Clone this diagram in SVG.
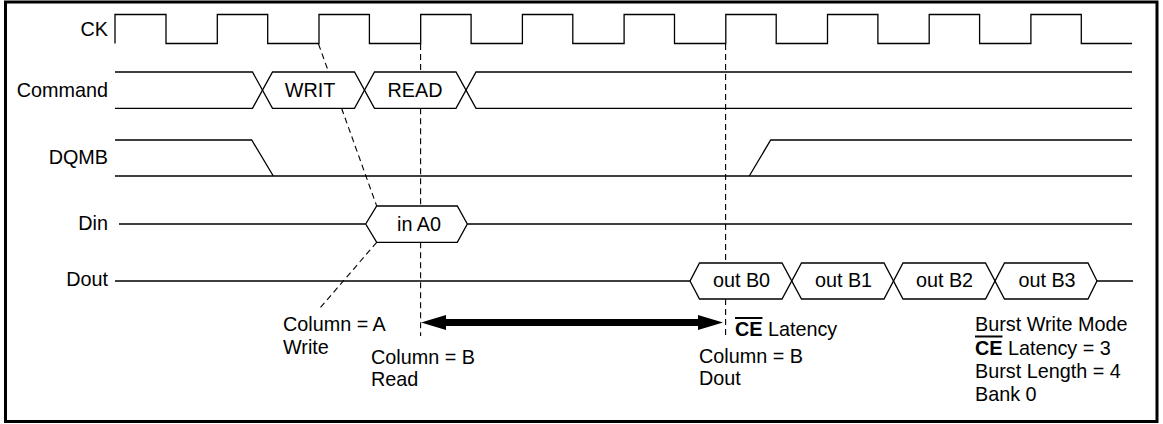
<svg xmlns="http://www.w3.org/2000/svg" width="1163" height="424" viewBox="0 0 1163 424">
<style>
text{font-family:"Liberation Sans",Arial,Helvetica,sans-serif;font-size:19.8px;fill:#000}
.lbl{text-anchor:end}
.mid{text-anchor:middle}
.sig{fill:none;stroke:#000;stroke-width:1.3;stroke-linejoin:miter}
.dash{fill:none;stroke:#000;stroke-width:1.1;stroke-dasharray:6,4}
.b{font-weight:bold;text-decoration:overline}
</style>
<rect x="5.5" y="2" width="1151.5" height="419.5" fill="#fff" stroke="#000" stroke-width="3"/>
<g id="ck">
<text class="lbl" x="108" y="36">CK</text>
<path class="sig" d="M115,43.5 V14.5 H166 V43.5 H217.3 V14.5 H267.7 V43.5 H319 V14.5 H369.4 V43.5 H420.7 V14.5 H471.1 V43.5 H522.4 V14.5 H572.8 V43.5 H624.1 V14.5 H674.5 V43.5 H725.8 V14.5 H776.2 V43.5 H827.5 V14.5 H877.9 V43.5 H929.2 V14.5 H979.6 V43.5 H1030.9 V14.5 H1081.3 V43.5 H1132"/>
</g>
<g id="command">
<text class="lbl" x="108" y="97">Command</text>
<path class="sig" d="M115,72 H252.5 L272.5,108.3 H354.5 L374.5,72 H456 L476,108.3 H1132"/>
<path class="sig" d="M115,108.3 H252.5 L272.5,72 H354.5 L374.5,108.3 H456 L476,72 H1132"/>
<text class="mid" x="310" y="97">WRIT</text>
<text class="mid" x="415" y="97">READ</text>
</g>
<g id="dqmb">
<text class="lbl" x="108" y="164">DQMB</text>
<path class="sig" d="M115,140 H251.7 L273.3,176"/>
<path class="sig" d="M115,176 H1132"/>
<path class="sig" d="M749.3,176 L770.7,140 H1132"/>
</g>
<g id="din">
<text class="lbl" x="108" y="230">Din</text>
<path class="sig" d="M119,224 H365.7 M467.3,224 H1132"/>
<path class="sig" d="M365.7,224 L376.7,206 H457.3 L467.3,224 L457.3,242.3 H376.7 Z"/>
<text class="mid" x="419" y="231">in A0</text>
</g>
<g id="dout">
<text class="lbl" x="108" y="286">Dout</text>
<path class="sig" d="M115,281 H690 L699.5,263 H782 L801.5,299 H884 L903,263 H985.5 L1004.5,299 H1088 L1097,281 H1133"/>
<path class="sig" d="M690,281 L699.5,299 H782 L801.5,263 H884 L903,299 H985.5 L1004.5,263 H1088 L1097,281"/>
<text class="mid" x="741.5" y="287">out B0</text>
<text class="mid" x="843.5" y="287">out B1</text>
<text class="mid" x="944.5" y="287">out B2</text>
<text class="mid" x="1047" y="287">out B3</text>
</g>
<g id="connectors">
<path class="dash" d="M318.5,44 L328.6,72 M341.6,108.3 L376.7,206"/>
<path class="dash" d="M376.7,242.3 L318.3,310"/>
<path class="dash" d="M420.6,44 V72 M420.6,108.3 V206 M420.6,242.3 V336"/>
<path class="dash" d="M725.6,44 V263 M725.6,299 V336"/>
<polygon points="421,322.5 446,315 446,319 698,319 698,315 723,322.5 698,330 698,326 446,326 446,330" fill="#000"/>
</g>
<g id="notes">
<text x="283" y="331">Column = A</text>
<text x="283" y="353.5">Write</text>
<text x="371" y="364">Column = B</text>
<text x="371" y="386">Read</text>
<text x="735" y="336"><tspan class="b">CE</tspan> Latency</text>
<text x="699" y="363">Column = B</text>
<text x="699" y="385">Dout</text>
<text x="975" y="331">Burst Write Mode</text>
<text x="975" y="354.5"><tspan class="b">CE</tspan> Latency = 3</text>
<text x="975" y="378">Burst Length = 4</text>
<text x="975" y="401">Bank 0</text>
</g>
</svg>
